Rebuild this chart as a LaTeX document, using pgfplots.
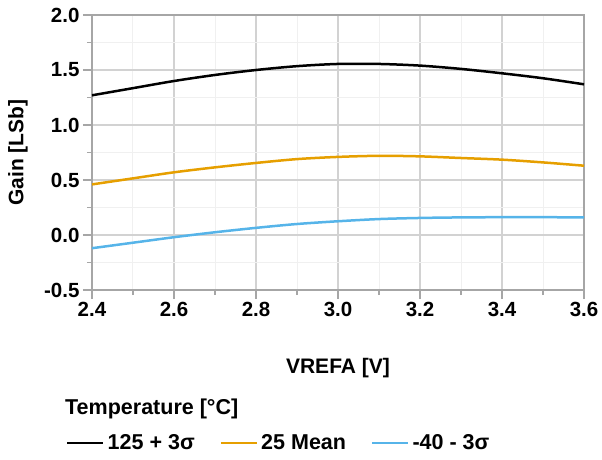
\documentclass[border=0pt]{standalone}
\usepackage{fontspec}
\setmainfont{Liberation Sans}
\usepackage{pgfplots}
\pgfplotsset{compat=1.18}
\definecolor{corange}{HTML}{E69F00}
\definecolor{cblue}{HTML}{56B4E9}
\begin{document}
\begin{tikzpicture}
\useasboundingbox (-92pt,-169pt) rectangle (510pt,290pt);
\begin{axis}[
 at={(0,0)}, anchor=south west,
 scale only axis, width=492pt, height=275pt,
 xmin=2.4, xmax=3.6, ymin=-0.5, ymax=2.0,
 xtick={2.4,2.6,2.8,3.0,3.2,3.4,3.6},
 ytick={-0.5,0,0.5,1,1.5,2},
 minor x tick num=1, minor y tick num=1,
 grid=both,
 major grid style={gray!35, line width=1.2pt},
 minor grid style={gray!12, line width=1pt},
 axis line style={gray!70, line width=1.3pt},
 tick style={gray!70, line width=1.2pt},
 tick align=outside, major tick length=9pt, minor tick length=5pt,
 xtick pos=bottom, ytick pos=left,
 /pgf/number format/assume math mode=true,
 xticklabel={\pgfmathprintnumber[fixed,fixed zerofill,precision=1]{\tick}},
 yticklabel={\pgfmathprintnumber[fixed,fixed zerofill,precision=1]{\tick}},
 tick label style={font=\bfseries\fontsize{20.5}{22}\selectfont},
 xlabel={VREFA [V]}, ylabel={Gain [LSb]},
 xlabel style={at={(axis description cs:0.5,0)}, anchor=center, yshift=-78pt, font=\bfseries\fontsize{21}{22}\selectfont},
 ylabel style={at={(axis description cs:0,0.5)}, anchor=center, yshift=74pt, font=\bfseries\fontsize{21}{22}\selectfont},
 legend columns=3,
 legend style={at={(axis description cs:0,0)}, anchor=west, xshift=-29pt, yshift=-153pt, draw=none, fill=none,
   font=\bfseries\fontsize{21.5}{22}\selectfont,
   nodes={inner xsep=3pt},
   /tikz/every even column/.append style={column sep=22pt}},
 legend image code/.code={\draw[#1, line width=2.5pt] (0pt,0pt) -- (36pt,0pt);},
]
\addplot[black, line width=2.5pt, smooth] coordinates {(2.4,1.27)(2.5,1.335)(2.6,1.40)(2.7,1.455)(2.8,1.50)(2.9,1.535)(3.0,1.555)(3.1,1.555)(3.2,1.54)(3.3,1.51)(3.4,1.47)(3.5,1.425)(3.6,1.37)};
\addlegendentry{125 + 3σ}
\addplot[corange, line width=2.5pt, smooth] coordinates {(2.4,0.46)(2.5,0.515)(2.6,0.57)(2.7,0.615)(2.8,0.655)(2.9,0.69)(3.0,0.71)(3.1,0.72)(3.2,0.715)(3.3,0.70)(3.4,0.685)(3.5,0.66)(3.6,0.63)};
\addlegendentry{25 Mean}
\addplot[cblue, line width=2.5pt, smooth] coordinates {(2.4,-0.12)(2.5,-0.07)(2.6,-0.02)(2.7,0.025)(2.8,0.065)(2.9,0.10)(3.0,0.125)(3.1,0.145)(3.2,0.155)(3.3,0.16)(3.4,0.162)(3.5,0.162)(3.6,0.16)};
\addlegendentry{-40 - 3σ}
\end{axis}
\node[anchor=west, font=\bfseries\fontsize{21.5}{22}\selectfont, inner sep=0pt] at (-27pt,-119pt) {Temperature [°C]};
\end{tikzpicture}
\end{document}
